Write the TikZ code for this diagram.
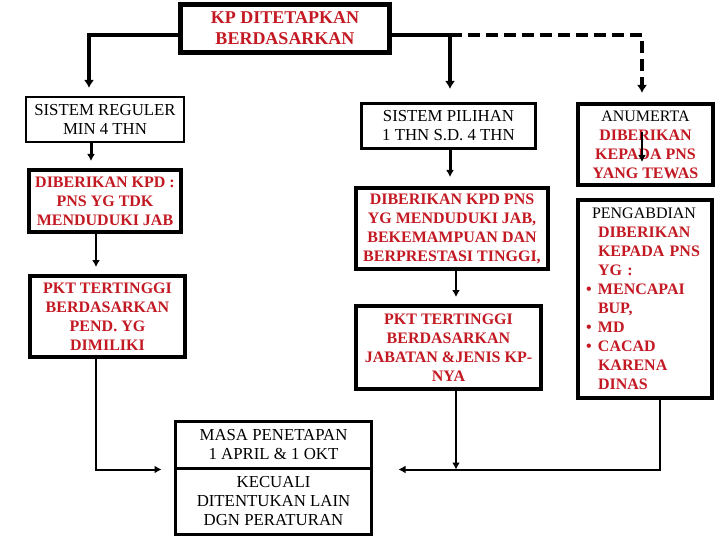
\documentclass[tikz,border=0pt]{standalone}
\usepackage{fontspec}
\setmainfont{Liberation Serif}
\usetikzlibrary{arrows.meta}
\begin{document}
\begin{tikzpicture}[x=1pt, y=-1pt, >={Latex[length=7pt, width=8pt]},
  box/.style={draw, line width=4pt, align=center, inner sep=0pt, text=kpred, font=\fontsize{16}{19}\selectfont\bfseries},
  blackbox/.style={box, text=black, font=\fontsize{16.8}{19}\selectfont},
  link/.style={->, line width=2pt}]

\definecolor{kpred}{RGB}{195, 25, 35}

\useasboundingbox (0,0) rectangle (720,540);

\node[box, line width=5pt, minimum width=209pt, minimum height=48pt, font=\fontsize{18}{21}\selectfont\bfseries] (top) at (285, 28.5) {KP DITETAPKAN\\BERDASARKAN};

\node[blackbox, line width=2pt, minimum width=158pt, minimum height=45pt] (regular) at (105, 119.5) {SISTEM REGULER\\MIN 4 THN};
\node[box, minimum width=152pt, minimum height=62pt] (dibleft) at (105, 201) {DIBERIKAN KPD :\\PNS YG TDK\\MENDUDUKI JAB};
\node[box, minimum width=155pt, minimum height=81pt] (pktleft) at (107.5, 316.5) {PKT TERTINGGI\\BERDASARKAN\\PEND. YG\\DIMILIKI};

\node[blackbox, line width=3pt, minimum width=174pt, minimum height=45pt] (pilihan) at (448.5, 126) {SISTEM PILIHAN\\1 THN S.D. 4 THN};
\node[box, minimum width=192pt, minimum height=81pt] (dibmid) at (452, 228.5) {DIBERIKAN KPD PNS\\YG MENDUDUKI JAB,\\BEKEMAMPUAN DAN\\BERPRESTASI TINGGI,};
\node[box, minimum width=185pt, minimum height=83pt] (pktmid) at (448.5, 347.5) {PKT TERTINGGI\\BERDASARKAN\\JABATAN \&JENIS KP-\\NYA};

\node[box, minimum width=135pt, minimum height=81pt] (anumerta) at (645.5, 144.5) {{\color{black}\mdseries ANUMERTA}\\DIBERIKAN\\KEPADA PNS\\YANG TEWAS};
\node[box, text width=118pt, align=left, minimum width=134pt, minimum height=198pt] (pengabdian) at (645, 299) {\hspace*{6pt}{\color{black}\mdseries PENGABDIAN}\\
\hspace*{12pt}DIBERIKAN\\
\hspace*{12pt}KEPADA PNS\\
\hspace*{12pt}YG :\\
\makebox[12pt][l]{\textbullet}MENCAPAI\\
\hspace*{12pt}BUP,\\
\makebox[12pt][l]{\textbullet}MD\\
\makebox[12pt][l]{\textbullet}CACAD\\
\hspace*{12pt}KARENA\\
\hspace*{12pt}DINAS};

\node[blackbox, line width=3pt, minimum width=196pt, minimum height=47pt] (masa) at (273.5, 444.5) {MASA PENETAPAN\\1 APRIL \& 1 OKT};
\node[blackbox, line width=3pt, minimum width=196pt, minimum height=66pt] (kecuali) at (273.5, 501) {KECUALI\\DITENTUKAN LAIN\\DGN PERATURAN};

\coordinate (leftfork) at ([yshift=-6.5pt]top.west);
\coordinate (fork) at ([yshift=-6.5pt]top.east);
\coordinate (leftin) at ([xshift=-12.5pt]masa.south west);
\coordinate (rightin) at ([xshift=25.5pt]masa.south east);

\draw[->, line width=4pt, shorten >=8pt, >={Latex[length=8pt, width=10pt]}] (leftfork) -| ([xshift=-16pt]regular.north);
\draw[->, line width=4pt, shorten >=13pt, >={Latex[length=8pt, width=10pt]}] (fork) -| ([xshift=1.5pt]pilihan.north);
\draw[->, line width=4pt, dash pattern=on 12pt off 6pt, shorten >=9pt, >={Latex[length=8pt, width=10pt]}] ([xshift=1.5pt]pilihan.north |- fork) -| ([xshift=-3.5pt]anumerta.north);

\draw[->, line width=3pt, shorten >=7pt] ([xshift=-14pt]regular.south) -- ([xshift=-14pt]dibleft.north);
\draw[link, shorten >=7pt] ([xshift=-9pt]dibleft.south) -- ([xshift=-11.5pt]pktleft.north);
\draw[link] ([xshift=-11.5pt]pktleft.south) |- (leftin);

\draw[->, line width=3pt, shorten >=9pt] ([xshift=1.5pt]pilihan.south) -- ([xshift=-2pt]dibmid.north);
\draw[link, shorten >=7pt] ([xshift=4pt]dibmid.south) -- ([xshift=7.5pt]pktmid.north);
\draw[link] ([xshift=7.5pt]pktmid.south) -- ([xshift=7.5pt]pktmid.south |- rightin);

\draw[link] ([xshift=-3.5pt, yshift=12.5pt]anumerta.center) -- ([xshift=-3.5pt, yshift=-17.5pt]anumerta.center);
\draw[link] ([xshift=15pt]pengabdian.south) |- (rightin);

\end{tikzpicture}
\end{document}
